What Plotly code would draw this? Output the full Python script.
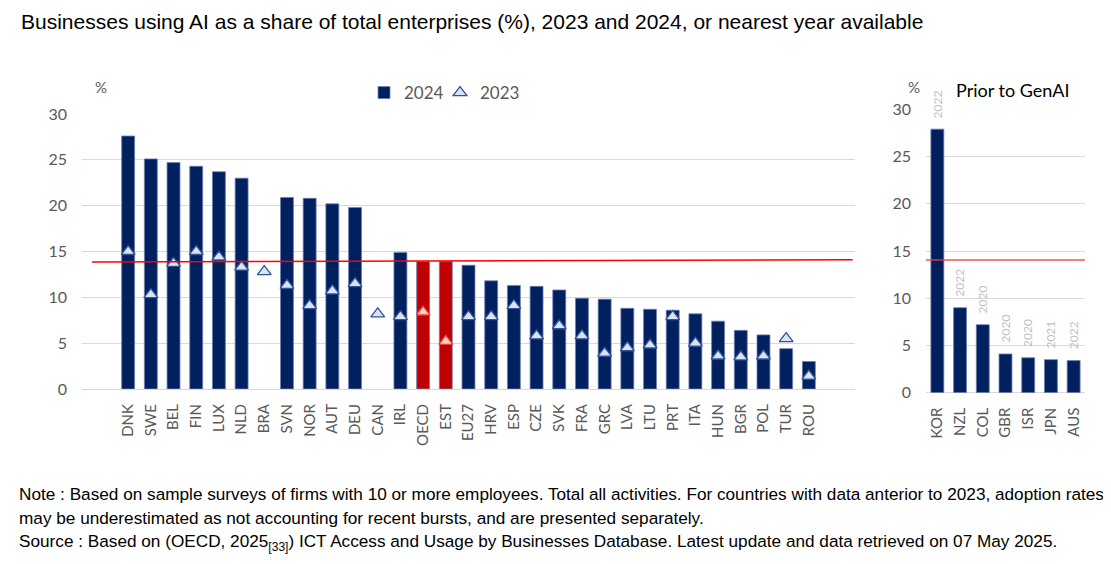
import plotly.graph_objects as go

# ---------------- data ----------------
countries = ["DNK", "SWE", "BEL", "FIN", "LUX", "NLD", "BRA", "SVN", "NOR", "AUT", "DEU",
             "CAN", "IRL", "OECD", "EST", "EU27", "HRV", "ESP", "CZE", "SVK", "FRA", "GRC",
             "LVA", "LTU", "PRT", "ITA", "HUN", "BGR", "POL", "TUR", "ROU"]
values_2024 = [27.6, 25.1, 24.7, 24.3, 23.7, 23.0, None, 20.9, 20.8, 20.2, 19.8,
               None, 14.9, 13.9, 13.9, 13.5, 11.8, 11.3, 11.2, 10.8, 9.9, 9.8,
               8.8, 8.7, 8.6, 8.2, 7.4, 6.4, 5.9, 4.4, 3.0]
values_2023 = [15.0, 10.3, 13.7, 15.0, 14.4, 13.3, 12.8, 11.3, 9.1, 10.7, 11.5,
               8.2, 7.9, 8.4, 5.2, 7.9, 7.9, 9.1, 5.8, 6.9, 5.8, 3.9,
               4.5, 4.8, 7.9, 5.0, 3.6, 3.5, 3.6, 5.5, 1.4]
highlight = ["OECD", "EST"]

prior_countries = ["KOR", "NZL", "COL", "GBR", "ISR", "JPN", "AUS"]
prior_values = [27.9, 9.0, 7.2, 4.1, 3.7, 3.5, 3.4]
prior_years = ["2022", "2022", "2020", "2020", "2020", "2021", "2022"]

oecd_line_left = [13.85, 14.1]
oecd_line_right = 14.05

y_ticks = [0, 5, 10, 15, 20, 25, 30]

# ---------------- styles ----------------
NAVY = "#002060"
RED = "#C00000"
GRAY_TXT = "#595959"
GRID = "#D9D9D9"
TICK_FONT = "Lato, Carlito, Calibri, sans-serif"

bar_colors = [RED if c in highlight else NAVY for c in countries]
tri_fill = ["#FAD0BC" if c in highlight else "#DAE3F3" for c in countries]
tri_line = ["#E8403A" if c in highlight else "#2F5597" for c in countries]

W, H = 1111, 564
OFF = 8  # page body margin compensation


def px(x):
    return (x - OFF) / W


def py(y):
    return 1 - (y - OFF) / H


fig = go.Figure()

fig.add_trace(go.Bar(
    x=countries, y=values_2024, name="2024",
    marker=dict(color=bar_colors, line=dict(color="#6F80B0", width=0.8)),
    width=0.57, xaxis="x", yaxis="y", showlegend=True, legend="legend",
))
fig.add_trace(go.Scatter(
    x=countries, y=values_2023, name="2023", mode="markers",
    marker=dict(symbol="triangle-up", size=12, color=tri_fill,
                line=dict(color=tri_line, width=1.3)),
    xaxis="x", yaxis="y", showlegend=True, legend="legend2",
))
fig.add_trace(go.Bar(
    x=prior_countries, y=prior_values, name="prior",
    marker=dict(color=NAVY, line=dict(color="#6F80B0", width=0.8)),
    width=0.57, xaxis="x2", yaxis="y2", showlegend=False,
))

# OECD reference lines
fig.add_shape(type="line", xref="x domain", yref="y", x0=0.013, x1=0.997,
              y0=oecd_line_left[0], y1=oecd_line_left[1],
              line=dict(color="#FF0000", width=1.5), layer="above")
fig.add_shape(type="line", xref="x2 domain", yref="y2", x0=0, x1=1,
              y0=oecd_line_right, y1=oecd_line_right,
              line=dict(color="rgba(240,60,60,0.65)", width=2), layer="above")

# year labels
for c, v, yr in zip(prior_countries, prior_values, prior_years):
    fig.add_annotation(x=c, y=v, xref="x2", yref="y2", text=yr, textangle=-90,
                       showarrow=False, yanchor="bottom", xanchor="center", yshift=9,
                       font=dict(family=TICK_FONT, size=12, color="#BFBFBF"))

axis_common = dict(showline=False, ticks="", tickangle=-90, showgrid=False,
                   automargin=False,
                   tickfont=dict(family=TICK_FONT, size=15, color=GRAY_TXT),
                   ticklabelstandoff=11)
yaxis_common = dict(range=[0, 30], tickvals=y_ticks, showgrid=True, gridcolor=GRID,
                    gridwidth=1.3, zeroline=True, zerolinecolor=GRID, zerolinewidth=1.3,
                    showline=False, ticks="", automargin=False,
                    tickfont=dict(family=TICK_FONT, size=16, color=GRAY_TXT),
                    ticklabelstandoff=14)

legend_common = dict(orientation="h", xanchor="left", yanchor="middle",
                     font=dict(family=TICK_FONT, size=17, color=GRAY_TXT),
                     itemwidth=30, bgcolor="rgba(0,0,0,0)")

fig.update_layout(
    width=W, height=H,
    margin=dict(l=0, r=0, t=0, b=0, pad=0),
    paper_bgcolor="white", plot_bgcolor="white",
    xaxis=dict(domain=[px(82), px(855)], anchor="y", categoryorder="array",
               categoryarray=countries, **axis_common),
    yaxis=dict(domain=[py(389), py(114)], anchor="x", **yaxis_common),
    xaxis2=dict(domain=[px(926), px(1085)], anchor="y2", categoryorder="array",
                categoryarray=prior_countries, **axis_common),
    yaxis2=dict(domain=[py(392.7), py(109.3)], anchor="x2", **yaxis_common),
    legend=dict(x=px(364), y=py(93), **legend_common),
    legend2=dict(x=px(440), y=py(93), **legend_common),
    showlegend=True,
)

# title
fig.add_annotation(xref="paper", yref="paper", x=px(19), y=py(21), xanchor="left",
                   yanchor="middle", showarrow=False,
                   text="Businesses using AI as a share of total enterprises (%), 2023 and 2024, or nearest year available",
                   font=dict(family="Liberation Sans, Arial, sans-serif", size=21, color="black"))
# % labels
fig.add_annotation(xref="paper", yref="paper", x=px(101), y=py(87), showarrow=False,
                   xanchor="center", yanchor="middle",
                   text="%", font=dict(family=TICK_FONT, size=15, color=GRAY_TXT))
fig.add_annotation(xref="paper", yref="paper", x=px(914), y=py(87), showarrow=False,
                   xanchor="center", yanchor="middle",
                   text="%", font=dict(family=TICK_FONT, size=15, color=GRAY_TXT))
fig.add_annotation(xref="paper", yref="paper", x=px(1013), y=py(90), showarrow=False,
                   xanchor="center", yanchor="middle",
                   text="Prior to GenAI", font=dict(family=TICK_FONT, size=18, color="black"))

note_font = dict(family="Liberation Sans, Arial, sans-serif", size=17.2, color="black")
notes = [
    "Note : Based on sample surveys of firms with 10 or more employees. Total all activities. For countries with data anterior to 2023, adoption rates",
    "may be underestimated as not accounting for recent bursts, and are presented separately.",
    "Source : Based on (OECD, 2025<sub>[33]</sub>) ICT Access and Usage by Businesses Database. Latest update and data retrieved on 07 May 2025.",
]
for i, t in enumerate(notes):
    fig.add_annotation(xref="paper", yref="paper", x=px(17), y=py(494 + 24 * i),
                       xanchor="left", yanchor="middle", showarrow=False, text=t,
                       font=note_font)

fig.write_html("out.html")
